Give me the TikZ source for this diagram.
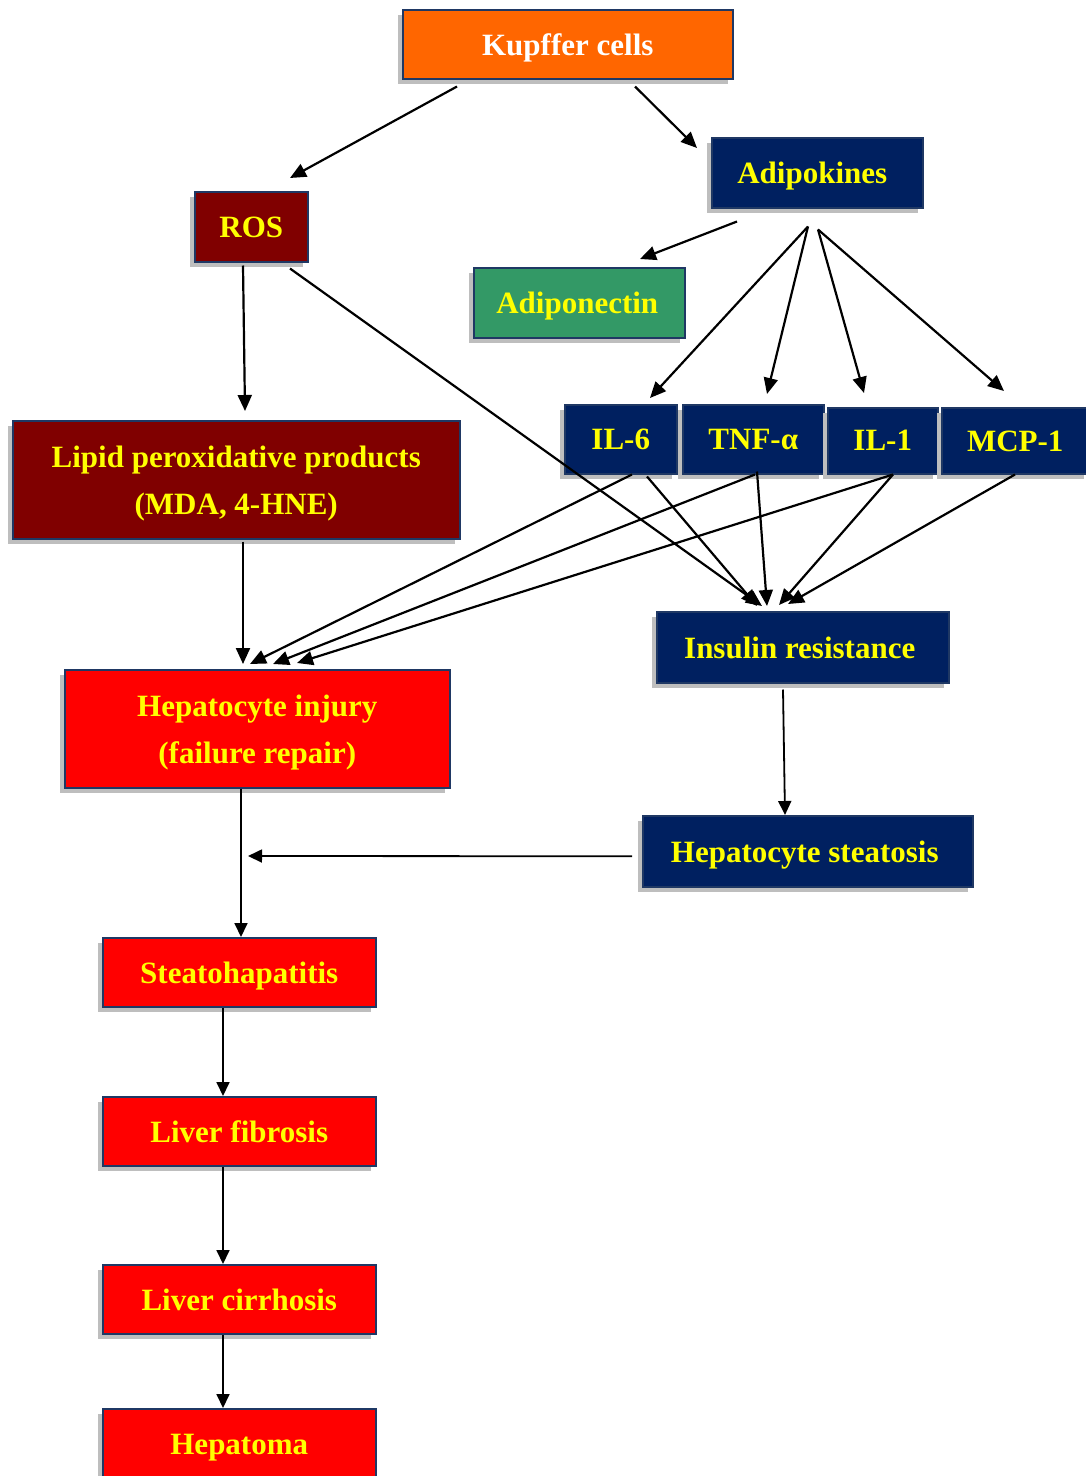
\documentclass[tikz,border=0pt]{standalone}
\usepackage{fontspec}
\setmainfont{Liberation Serif}
\usetikzlibrary{arrows.meta,shadows}
\definecolor{navy}{RGB}{0,32,96}
\definecolor{orng}{RGB}{255,102,0}
\definecolor{maroon}{RGB}{128,0,0}
\definecolor{leaf}{RGB}{51,153,102}
\definecolor{brightred}{RGB}{255,0,0}
\definecolor{yel}{RGB}{255,255,0}
\definecolor{edge}{RGB}{31,56,100}
\definecolor{shade}{RGB}{190,190,190}
\begin{document}
\begin{tikzpicture}[x=1pt,y=-1pt,
  box/.style={draw=edge, line width=1.5pt, anchor=north west, inner sep=0pt,
    align=center, text=yel, text depth=0pt, font=\bfseries\fontsize{31}{47}\selectfont,
    drop shadow={shadow xshift=-5pt, shadow yshift=-5pt, opacity=1, fill=shade}},
  arr/.style={line width=2.2pt, -{Triangle[length=16pt,width=14pt]}},
  sarr/.style={line width=1.8pt, -{Triangle[length=14pt,width=13pt]}}]
\useasboundingbox (0,0) rectangle (1085,1476);

% boxes
\node[box, fill=orng, text=white, minimum width=330pt, minimum height=69pt] (kup) at (402,9) {Kupffer cells};
\node[box, fill=maroon, minimum width=113pt, minimum height=70pt] (ros) at (194,191) {ROS};
\node[box, fill=navy, minimum width=211pt, minimum height=70pt] (adk) at (711,137) {Adipokines\hspace*{10pt}};
\node[box, fill=leaf, minimum width=211pt, minimum height=70pt] (adn) at (473,267) {Adiponectin\hspace*{4pt}};
\node[box, fill=maroon, minimum width=447pt, minimum height=118pt] (lip) at (12,420) {Lipid peroxidative products\\(MDA, 4-HNE)};
\node[box, fill=navy, minimum width=112pt, minimum height=69pt] (il6) at (564,404) {IL-6};
\node[box, fill=navy, minimum width=141pt, minimum height=69pt] (tnf) at (682,404) {TNF-α};
\node[box, fill=navy, minimum width=110pt, minimum height=66pt] (il1) at (827,407) {IL-1};
\node[box, fill=navy, minimum width=147pt, minimum height=66pt] (mcp) at (941,407) {MCP-1};
\node[box, fill=navy, minimum width=292pt, minimum height=71pt] (ins) at (656,611) {Insulin resistance\hspace*{6pt}};
\node[box, fill=brightred, minimum width=385pt, minimum height=118pt] (inj) at (64,669) {Hepatocyte injury\\(failure repair)};
\node[box, fill=navy, minimum width=330pt, minimum height=71pt] (ste) at (642,815) {Hepatocyte steatosis\hspace*{6pt}};
\node[box, fill=brightred, minimum width=273pt, minimum height=69pt] (sth) at (102,937) {Steatohapatitis};
\node[box, fill=brightred, minimum width=273pt, minimum height=69pt] (fib) at (102,1096) {Liver fibrosis};
\node[box, fill=brightred, minimum width=273pt, minimum height=69pt] (cir) at (102,1264) {Liver cirrhosis};
\node[box, fill=brightred, minimum width=273pt, minimum height=72pt] (hep) at (102,1408) {Hepatoma};

% junction where the steatosis arrow meets the main chain
\coordinate (merge) at (248,856);

% connectors
\draw[arr] ([shift={(55,7)}]kup.south west) -- ([shift={(96,-13)}]ros.north west);
\draw[arr] ([shift={(233,7)}]kup.south west) -- ([shift={(-14,11)}]adk.north west);
\draw[arr] ([shift={(26,13)}]adk.south west) -- ([shift={(167,-8)}]adn.north west);
\draw[arr] ([shift={(97,18)}]adk.south west) -- ([shift={(86,-6)}]il6.north west);
\draw[arr] ([shift={(97,18)}]adk.south west) -- ([shift={(85,-10)}]tnf.north west);
\draw[arr] ([shift={(107,21)}]adk.south west) -- ([shift={(37,-14)}]il1.north west);
\draw[arr] ([shift={(107,21)}]adk.south west) -- ([shift={(63,-16)}]mcp.north west);
\draw[arr] ([shift={(49,3)}]ros.south west) -- ([shift={(233,-9)}]lip.north west);
\draw[arr] ([shift={(96,6)}]ros.south west) -- ([shift={(106,-5)}]ins.north west);
\draw[arr] ([shift={(231,2)}]lip.south west) -- ([shift={(179,-5)}]inj.north west);
\draw[arr] ([shift={(68,0)}]il6.south west) -- ([shift={(186,-5)}]inj.north west);
\draw[arr] ([shift={(83,2)}]il6.south west) -- ([shift={(101,-5)}]ins.north west);
\draw[arr] ([shift={(73,0)}]tnf.south west) -- ([shift={(209,-5)}]inj.north west);
\draw[arr] ([shift={(75,-3)}]tnf.south west) -- ([shift={(111,-5)}]ins.north west);
\draw[arr] ([shift={(66,0)}]il1.south west) -- ([shift={(233,-6)}]inj.north west);
\draw[arr] ([shift={(66,0)}]il1.south west) -- ([shift={(123,-6)}]ins.north west);
\draw[arr] ([shift={(74,0)}]mcp.south west) -- ([shift={(132,-7)}]ins.north west);
\draw[sarr] ([shift={(127,6)}]ins.south west) -- ([shift={(143,0)}]ste.north west);
\draw[sarr] ([shift={(-10,5)}]ste.west) -- (merge);
\draw[sarr] ([shift={(177,0)}]inj.south west) -- ([shift={(139,0)}]sth.north west);
\draw[sarr] ([shift={(121,0)}]sth.south west) -- ([shift={(121,0)}]fib.north west);
\draw[sarr] ([shift={(121,0)}]fib.south west) -- ([shift={(121,0)}]cir.north west);
\draw[sarr] ([shift={(121,0)}]cir.south west) -- ([shift={(121,0)}]hep.north west);
\end{tikzpicture}
\end{document}
